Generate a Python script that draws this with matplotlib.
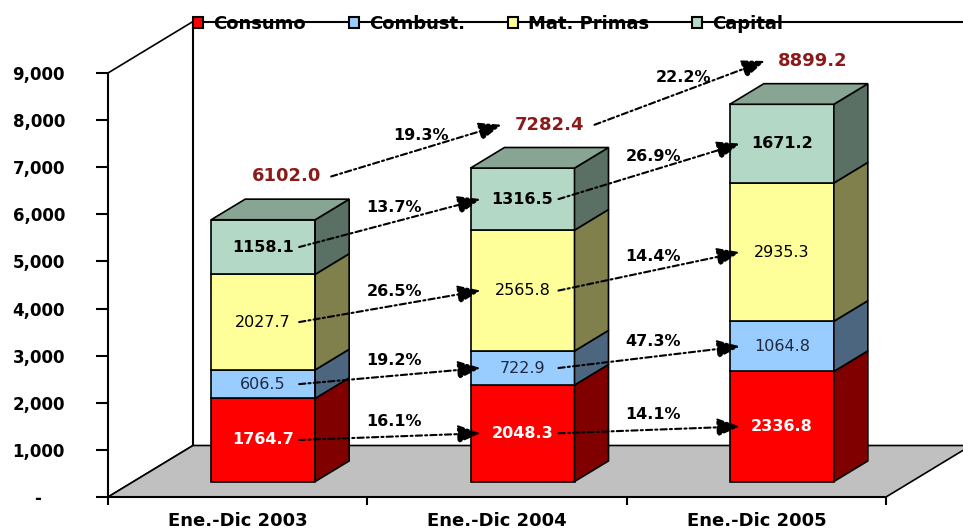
import matplotlib.pyplot as plt
from matplotlib.patches import Polygon, Patch
from matplotlib.ticker import FixedLocator, FuncFormatter

# data
periods = ['Ene.-Dic 2003', 'Ene.-Dic 2004', 'Ene.-Dic 2005']
series = ['Consumo', 'Combust.', 'Mat. Primas', 'Capital']
consumo = [1764.7, 2048.3, 2336.8]
combust = [606.5, 722.9, 1064.8]
mat_primas = [2027.7, 2565.8, 2935.3]
capital = [1158.1, 1316.5, 1671.2]
totals = [6102.0, 7282.4, 8899.2]
growth_consumo = ['16.1%', '14.1%']
growth_combust = ['19.2%', '47.3%']
growth_mat = ['26.5%', '14.4%']
growth_capital = ['13.7%', '26.9%']
growth_total = ['19.3%', '22.2%']

stack = [consumo, combust, mat_primas, capital]
growth = [growth_consumo, growth_combust, growth_mat, growth_capital]

# colours: front, side, top, label colour, label weight
front_col = ['#FF0000', '#99CCFF', '#FFFF99', '#B3D8C6']
side_col = ['#800000', '#4C6680', '#80804C', '#5A7064']
top_col = ['#800000', '#4C6680', '#80804C', '#88A594']
lab_col = ['white', '#1E2A40', 'black', 'black']
lab_w = ['bold', 'normal', 'normal', 'bold']

W, H = 963, 531
fig = plt.figure(figsize=(W / 100, H / 100), dpi=100)
# front plane of the 3d box, in pixels: x 108..886, y 497..73
ax = fig.add_axes([108 / W, (H - 497) / H, (886 - 108) / W, (497 - 73) / H])
ax.set_xlim(0, 3)
ax.set_ylim(0, 9000)

PX = 3 / 778.0      # data x per pixel
PY = 9000 / 424.0   # data y per pixel
DX = 85 * PX        # full depth offset
DY = 51.5 * PY
d0, d1 = 0.3, 0.7   # bar depth range
half_w = 52 * PX

def pt(x, y, d):
    return (x + d * DX, y + d * DY)

def poly(pts, fc, z):
    ax.add_patch(Polygon(pts, closed=True, facecolor=fc, edgecolor='black',
                         lw=1.2, zorder=z, clip_on=False, joinstyle='miter'))

# walls and floor
poly([pt(0, 0, 0), pt(0, 9000, 0), pt(0, 9000, 1), pt(0, 0, 1)], 'white', 1)
ax.plot([DX, DX, 3 + DX], [DY, 9000 + DY, 9000 + DY], color='black', lw=1.5,
        zorder=1.5, clip_on=False)
poly([pt(0, 0, 0), pt(3, 0, 0), pt(3, 0, 1), pt(0, 0, 1)], '#C0C0C0', 2)

# bars
label_pos = [[None] * 3 for _ in series]
top_pos = []
for i in range(3):
    c = i + 0.5
    x0, x1 = c - half_w, c + half_w
    base = 0.0
    for s in range(4):
        v = stack[s][i]
        y0, y1 = base, base + v
        z = 3 + i * 0.1 + s * 0.01
        poly([pt(x0, y0, d0), pt(x1, y0, d0), pt(x1, y1, d0), pt(x0, y1, d0)],
             front_col[s], z)
        poly([pt(x1, y0, d0), pt(x1, y0, d1), pt(x1, y1, d1), pt(x1, y1, d0)],
             side_col[s], z)
        if s == 3:
            poly([pt(x0, y1, d0), pt(x1, y1, d0), pt(x1, y1, d1), pt(x0, y1, d1)],
                 top_col[s], z)
        lx, ly = pt(c, (y0 + y1) / 2, d0)
        label_pos[s][i] = (lx, ly)
        ax.text(lx, ly, f'{v:.1f}', ha='center', va='center', fontsize=11.5,
                color=lab_col[s], fontweight=lab_w[s], zorder=10)
        base = y1
    tx, ty = pt(c, base, 0.5)
    top_pos.append((tx + (6 + 4 * i) * PX, ty + 33 * PY))

for i, t in enumerate(totals):
    ax.text(*top_pos[i], f'{t:.1f}', ha='center', va='center', fontsize=13,
            fontweight='bold', color='#8B1A1A', zorder=10)

def growth_arrow(p, q, txt, a_px, b_px):
    start = (p[0] + a_px * PX, p[1])
    end = (q[0] - b_px * PX, q[1])
    ax.annotate('', xy=end, xytext=start, zorder=11, annotation_clip=False,
                arrowprops=dict(arrowstyle='-|>,head_length=0.7,head_width=0.28',
                                mutation_scale=20, lw=1.5, color='black',
                                linestyle=(0, (3, 1.5, 1, 1.5)),
                                shrinkA=0, shrinkB=0))
    mid = ((start[0] + end[0]) / 2, (start[1] + end[1]) / 2)
    ax.annotate(txt, xy=mid, xytext=(3, 11), textcoords='offset points',
                ha='center', va='center', fontsize=11.5, fontweight='bold',
                zorder=12, annotation_clip=False)

for s in range(4):
    for i in range(2):
        growth_arrow(label_pos[s][i], label_pos[s][i + 1], growth[s][i], 36, 42)
for i in range(2):
    growth_arrow(top_pos[i], top_pos[i + 1], growth_total[i], 45, 48)

# axes styling
for sp in ['top', 'right']:
    ax.spines[sp].set_visible(False)
for sp in ['left', 'bottom']:
    ax.spines[sp].set_linewidth(1.5)
    ax.spines[sp].set_zorder(2.5)
ax.set_yticks(range(0, 9001, 1000))
ax.yaxis.set_major_formatter(FuncFormatter(
    lambda v, _: '-\u2007\u2007' if v == 0 else f'{v:,.0f}'))
ax.tick_params(axis='y', length=9, width=1.5, pad=22, labelsize=12)
ax.set_xticks([0, 1, 2, 3])
ax.set_xticklabels([])
ax.xaxis.set_minor_locator(FixedLocator([0.5, 1.5, 2.5]))
ax.set_xticklabels(periods, minor=True)
ax.tick_params(axis='x', which='major', length=6, width=1.5)
ax.tick_params(axis='x', which='minor', length=0, pad=11, labelsize=13)
for lbl in ax.get_yticklabels() + ax.get_xticklabels(minor=True):
    lbl.set_fontweight('bold')
ax.patch.set_visible(False)

handles = [Patch(facecolor=front_col[s], edgecolor='black', lw=1.5, label=series[s])
           for s in range(4)]
fig.legend(handles=handles, loc='upper left', bbox_to_anchor=(193 / W, 1 - 15 / H),
           ncol=4, frameon=False, handlelength=0.55, handleheight=0.55,
           handletextpad=0.55, columnspacing=2.4, borderaxespad=0, borderpad=0,
           prop=dict(weight='bold', size=13))

fig.savefig('out.png', dpi=100)
